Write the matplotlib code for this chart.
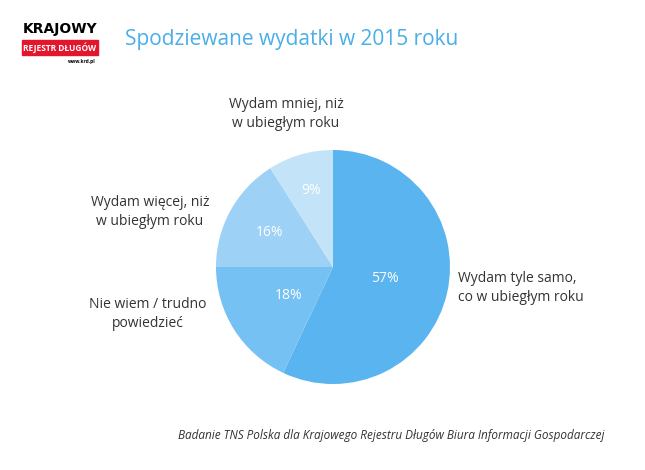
import numpy as np
import matplotlib.pyplot as plt
from matplotlib.patches import Rectangle

labels = ["Wydam tyle samo,\nco w ubiegłym roku", "Nie wiem / trudno\npowiedzieć",
          "Wydam więcej, niż\nw ubiegłym roku", "Wydam mniej, niż\nw ubiegłym roku"]
values = [57, 18, 16, 9]
colors = ["#5ab4f0", "#76c1f3", "#9dd1f6", "#c3e3f9"]
pct_dist = [0.45, 0.45, 0.62, 0.68]

plt.rcParams['font.family'] = ['Open Sans', 'DejaVu Sans']
fig = plt.figure(figsize=(6.45, 4.70), dpi=100)

ax = fig.add_axes([333/645 - 117/645, 1 - (267 + 117)/470, 234/645, 234/470])
wedges, _, autotexts = ax.pie(values, colors=colors, startangle=90, counterclock=False,
                              autopct='%d%%', pctdistance=0.45,
                              textprops=dict(color='white', fontsize=10))
for w, t, d in zip(wedges, autotexts, pct_dist):
    ang = np.deg2rad((w.theta1 + w.theta2) / 2)
    t.set_position((d * np.cos(ang), d * np.sin(ang)))
ax.set_xlim(-1, 1)
ax.set_ylim(-1, 1)
ax.set_aspect('equal')

# outside labels
pos = [(458, 288, 'left'), (148, 314, 'center'), (150, 212, 'center'), (286, 114, 'center')]
for lab, (x, y, ha) in zip(labels, pos):
    fig.text(x/645, 1 - y/470, lab, ha=ha, va='center', fontsize=10, color='#333333', linespacing=1.3)

fig.text(125/645, 1 - 40/470, "Spodziewane wydatki w 2015 roku", fontsize=15, color='#4aaee8', va='center')
fig.text(605/645, 1 - 435/470, "Badanie TNS Polska dla Krajowego Rejestru Długów Biura Informacji Gospodarczej",
         fontsize=8.5, style='italic', color='#333333', ha='right', va='center')

# logo approximation
fig.text(60/645, 1 - 29/470, "KRAJOWY", fontsize=10, weight='bold', color='black', ha='center', va='center',
         family='DejaVu Sans')
fig.patches.append(Rectangle((22/645, 1 - 55/470), 76/645, 15/470, transform=fig.transFigure, color='#e3162e'))
fig.text(60/645, 1 - 47.5/470, "REJESTR DŁUGÓW", fontsize=6, weight='bold', color='white', ha='center', va='center')
fig.text(96/645, 1 - 61/470, "www.krd.pl", fontsize=3.5, weight='bold', color='black', ha='right', va='center')

fig.savefig("out.png", dpi=100, facecolor='white')
